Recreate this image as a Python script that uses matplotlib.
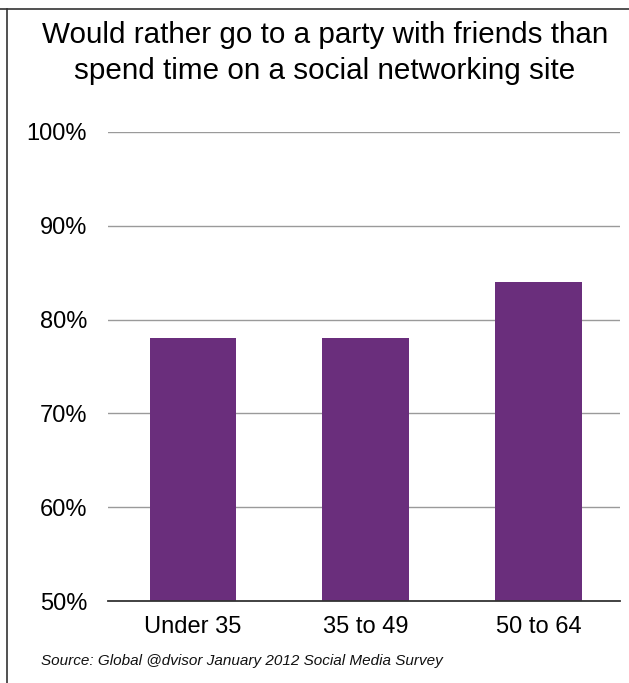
import matplotlib.pyplot as plt
from matplotlib.lines import Line2D

# survey results by age group
groups = ["Under 35", "35 to 49", "50 to 64"]
shares = [78, 78, 84]
yticks = [50, 60, 70, 80, 90, 100]

plt.rcParams['font.family'] = ['Liberation Sans', 'DejaVu Sans']

fig = plt.figure(figsize=(6.29, 6.83), dpi=100)
ax = fig.add_axes([108 / 629, 1 - 601 / 683, 512 / 629, 469 / 683])

ax.bar(range(len(groups)), shares, width=0.5, color='#6a2e7c', zorder=2)

ax.set_ylim(50, 100)
ax.set_xlim(-0.49, 2.47)
ax.set_yticks(yticks)
ax.set_yticklabels([f"{t}%" for t in yticks], fontsize=17)
ax.set_xticks(range(len(groups)))
ax.set_xticklabels(groups, fontsize=17)
ax.tick_params(length=0)
ax.tick_params(axis='y', pad=15)
ax.tick_params(axis='x', pad=11)

for t in yticks[1:]:
    ax.axhline(t, color='#9a9a9a', lw=1.0, zorder=1)
for s in ['top', 'right', 'left']:
    ax.spines[s].set_visible(False)
ax.spines['bottom'].set_color('#333333')
ax.spines['bottom'].set_linewidth(1.3)

fig.text(325 / 629, 1 - 43 / 683, "Would rather go to a party with friends than",
         ha='center', va='baseline', fontsize=21.3)
fig.text(325 / 629, 1 - 79 / 683, "spend time on a social networking site",
         ha='center', va='baseline', fontsize=21.3)
fig.text(41 / 629, 1 - 665 / 683, "Source: Global @dvisor January 2012 Social Media Survey",
         ha='left', va='baseline', fontsize=11, style='italic', color='#111111')

# frame edges of the page
fig.add_artist(Line2D([0, 1], [1 - 9 / 683, 1 - 9 / 683], color='#333333', lw=1.2))
fig.add_artist(Line2D([7 / 629, 7 / 629], [0, 1 - 9 / 683], color='#333333', lw=1.2))

plt.savefig("out.png", dpi=100)
